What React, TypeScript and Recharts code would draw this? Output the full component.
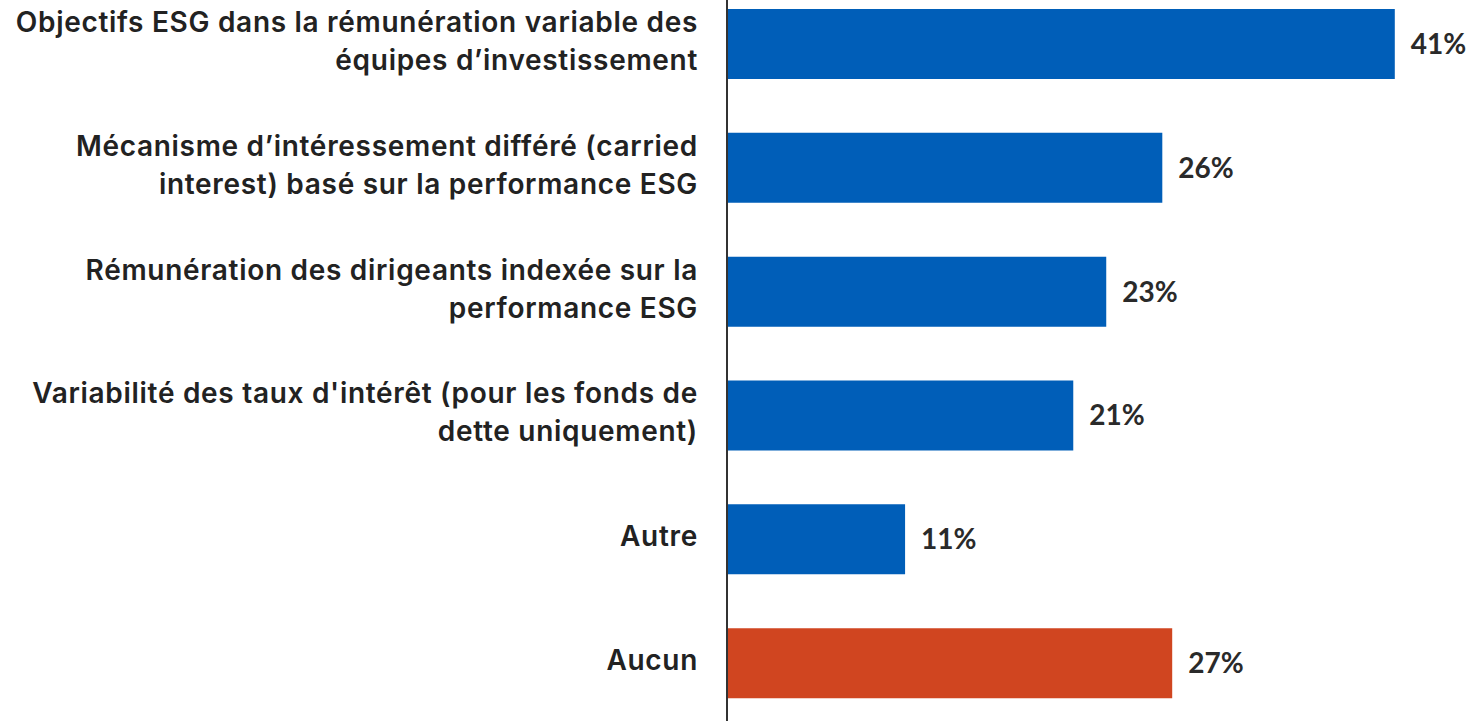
import React from "react";
import { BarChart, Bar, XAxis, YAxis, Cell, LabelList } from "recharts";

const categories = [
  "Objectifs ESG dans la rémunération variable des équipes d’investissement",
  "Mécanisme d’intéressement différé (carried interest) basé sur la performance ESG",
  "Rémunération des dirigeants indexée sur la performance ESG",
  "Variabilité des taux d'intérêt (pour les fonds de dette uniquement)",
  "Autre",
  "Aucun",
];

const categoryLines = [
  ["Objectifs ESG dans la rémunération variable des", "équipes d’investissement"],
  ["Mécanisme d’intéressement différé (carried", "interest) basé sur la performance ESG"],
  ["Rémunération des dirigeants indexée sur la", "performance ESG"],
  ["Variabilité des taux d'intérêt (pour les fonds de", "dette uniquement)"],
  ["Autre"],
  ["Aucun"],
];

const values = [40.5, 26.4, 23.0, 21.0, 10.8, 27.0];
const valueLabels = ["41%", "26%", "23%", "21%", "11%", "27%"];
const colors = ["#005EB8", "#005EB8", "#005EB8", "#005EB8", "#005EB8", "#D04520"];

const data = categories.map((c, i) => ({
  name: c,
  value: values[i],
  label: valueLabels[i],
}));

const CategoryTick = (props: any) => {
  const { y, payload } = props;
  const idx = categories.indexOf(payload.value);
  const lines = categoryLines[idx] || [payload.value];
  const lh = 38;
  const startY = y - ((lines.length - 1) * lh) / 2 - 3;
  return (
    <text
      x={698}
      y={startY}
      textAnchor="end"
      fill="#222222"
      fontFamily="Inter, 'Open Sans', sans-serif"
      fontWeight={600}
      fontSize={28}
      letterSpacing={0.7}
      dominantBaseline="central"
    >
      {lines.map((l: string, i: number) => (
        <tspan key={i} x={698} y={startY + i * lh}>
          {l}
        </tspan>
      ))}
    </text>
  );
};

export default function App() {
  return (
    <div style={{ position: "absolute", left: 0, top: -18 }}>
      <BarChart
        width={1474}
        height={743}
        data={data}
        layout="vertical"
        margin={{ top: 0, right: 5, bottom: 0, left: 0 }}
        barCategoryGap={0}
      >
        <XAxis type="number" domain={[0, 45]} hide />
        <YAxis
          type="category"
          dataKey="name"
          width={727}
          axisLine={{ stroke: "#333333", strokeWidth: 2 }}
          tickLine={false}
          tick={<CategoryTick />}
          interval={0}
        />
        <Bar dataKey="value" barSize={70} isAnimationActive={false}>
          {data.map((d, i) => (
            <Cell key={i} fill={colors[i]} />
          ))}
          <LabelList
            dataKey="label"
            position="right"
            offset={16}
            fill="#2a2a2a"
            fontFamily="Lato, sans-serif"
            fontWeight={700}
            fontSize={28}
          />
        </Bar>
      </BarChart>
    </div>
  );
}
